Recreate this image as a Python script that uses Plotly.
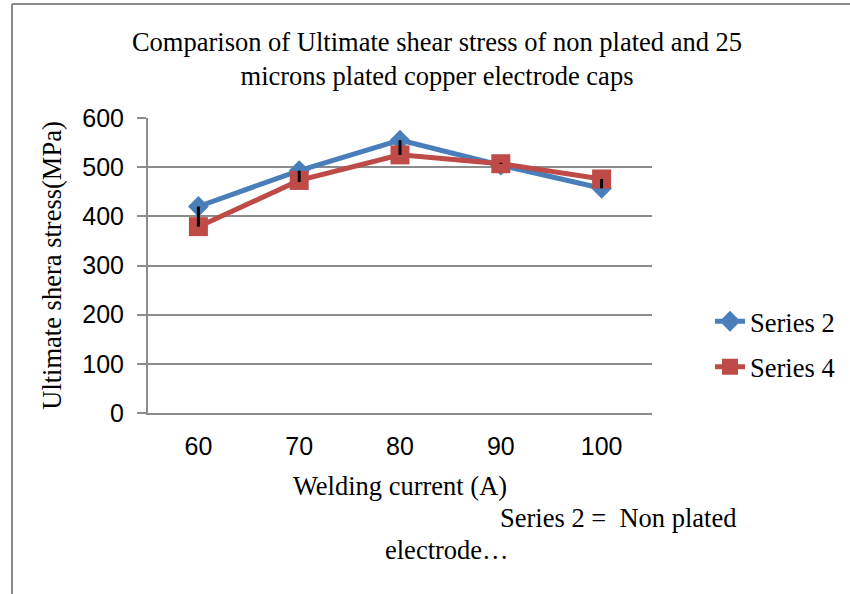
import plotly.graph_objects as go

# ---- data ----
currents = ["60", "70", "80", "90", "100"]
series2 = [420, 493, 555, 504, 457]          # Non plated electrode
series4 = [379, 473, 525, 507, 476]          # 25 microns plated electrode
err_plus = [41, 20, 30, 2, 0]
err_minus = [0, 3, 0, 0, 19]
y_ticks = [0, 100, 200, 300, 400, 500, 600]

# ---- layout geometry (pixels) ----
W, H = 850, 594
L, R, T, B = 148, 198, 118, 181
PW, PH = W - L - R, H - T - B


def px(x):
    return (x - L) / PW


def py(y):
    return (H - B - y) / PH


serif = "Liberation Serif, Times New Roman, serif"
sans = "Liberation Sans Narrow, Arial Narrow, Liberation Sans, Arial, sans-serif"
grid = "#8c8c8c"

fig = go.Figure()
fig.add_trace(go.Scatter(
    x=currents, y=series2, name="Series 2", mode="lines+markers",
    line=dict(color="#4A7EBB", width=5),
    marker=dict(symbol="diamond", size=16, color="#4A7EBB"),
    legendgroup="a",
))
fig.add_trace(go.Scatter(
    x=currents, y=series4, name="Series 4", mode="lines+markers",
    line=dict(color="#BE4B48", width=5),
    marker=dict(symbol="square", size=19, color="#BE4B48"),
    legendgroup="b",
))
fig.add_trace(go.Scatter(
    x=currents, y=series4, mode="markers", showlegend=False,
    marker=dict(size=1, opacity=0),
    error_y=dict(type="data", symmetric=False, array=err_plus,
                 arrayminus=err_minus, color="black", thickness=3, width=0),
))

fig.update_layout(
    width=W, height=H,
    margin=dict(l=L, r=R, t=T, b=B, autoexpand=False),
    paper_bgcolor="white", plot_bgcolor="white",
    title=dict(
        text="Comparison of Ultimate shear stress of non plated and 25<br>microns plated copper electrode caps",
        font=dict(family=serif, size=26.5, color="black"),
        x=px(437), xanchor="center", xref="paper",
        y=1 - 51 / H, yanchor="middle", yref="container",
    ),
    xaxis=dict(
        type="category", range=[-0.5, 4.5],
        showline=True, linecolor=grid, linewidth=2,
        showgrid=False, ticks="", ticklabelstandoff=10,
        tickfont=dict(family=sans, size=25, color="black"),
        title=dict(text="Welding current (A)", font=dict(family=serif, size=26.5, color="black"),
                   standoff=17),
    ),
    yaxis=dict(
        range=[0, 600], tickvals=y_ticks,
        showline=True, linecolor=grid, linewidth=2,
        showgrid=True, gridcolor=grid, gridwidth=2,
        ticks="outside", ticklen=9, tickcolor=grid, tickwidth=2,
        ticklabelstandoff=8,
        tickfont=dict(family=sans, size=25, color="black"),
        title=dict(text="Ultimate shera stress(MPa)", font=dict(family=serif, size=26.5, color="black"),
                   standoff=13),
        zeroline=False,
    ),
    legend=dict(
        x=px(710), xanchor="left", y=py(344), yanchor="middle",
        font=dict(family=serif, size=26.5, color="black"),
        tracegroupgap=8, bgcolor="rgba(0,0,0,0)",
    ),
    showlegend=True,
)

fig.add_annotation(text="Series 2 =\u00a0 Non plated", xref="paper", yref="paper",
                   x=px(618), y=py(518), xanchor="center", yanchor="middle", showarrow=False,
                   font=dict(family=serif, size=26.5, color="black"))
fig.add_annotation(text="electrode…", xref="paper", yref="paper",
                   x=px(447), y=py(550), xanchor="center", yanchor="middle", showarrow=False,
                   font=dict(family=serif, size=26.5, color="black"))

# page border lines
fig.add_shape(type="line", xref="paper", yref="paper",
              x0=px(12), y0=py(4), x1=px(W), y1=py(4),
              line=dict(color="#8a8a8a", width=2))
fig.add_shape(type="line", xref="paper", yref="paper",
              x0=px(12), y0=py(4), x1=px(12), y1=py(H),
              line=dict(color="#8a8a8a", width=2))

fig.write_html("out.html", config={"displayModeBar": False},
               post_script="document.body.style.margin='0';")
